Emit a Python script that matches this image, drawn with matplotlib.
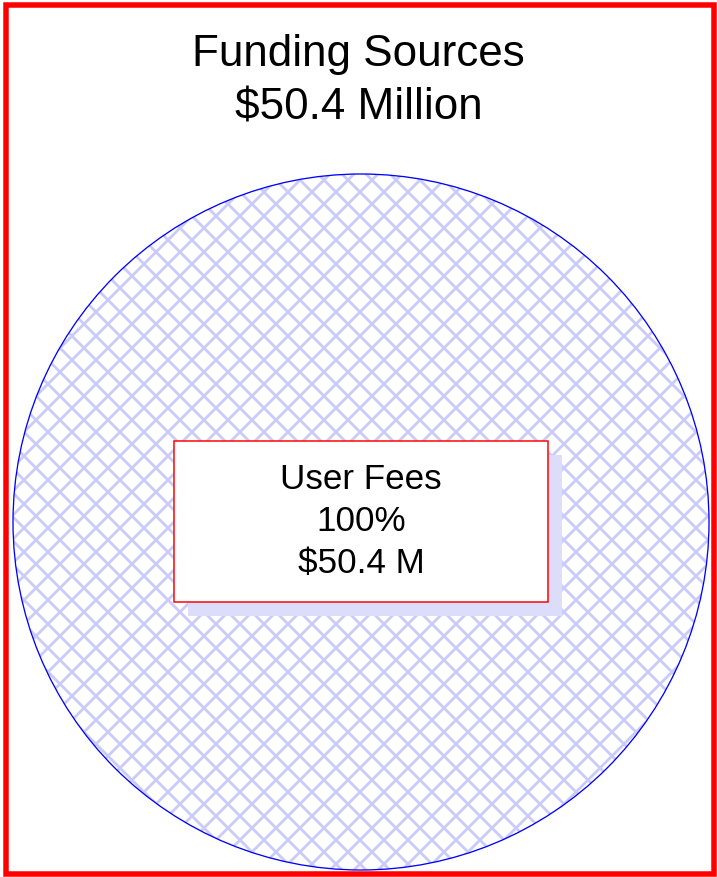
import matplotlib
matplotlib.use("Agg")
import matplotlib.pyplot as plt
from matplotlib.patches import Rectangle, Circle
from matplotlib.transforms import IdentityTransform

# Data
categories = ["User Fees"]
values = [50.4]  # $ millions
title_lines = ["Funding Sources", "$50.4 Million"]

plt.rcParams['font.family'] = ['Liberation Sans', 'DejaVu Sans']
plt.rcParams['hatch.linewidth'] = 2.8

DPI = 72
W, H = 717, 877
fig = plt.figure(figsize=(W / DPI, H / DPI), dpi=DPI)
ax = fig.add_axes([0, 0, 1, 1])

total = sum(values)
cx, cy, r = 361, 522, 348

ax.pie(values, center=(cx, cy), radius=r, startangle=90,
       colors=['white'], frame=True,
       wedgeprops=dict(hatch='x', edgecolor='#cbcbf9', linewidth=0))
ax.set_xlim(0, W)
ax.set_ylim(H, 0)
ax.set_aspect('equal')
ax.axis('off')
ax.add_patch(Circle((cx, cy), r, fill=False, edgecolor='#0000ff', linewidth=1.3, zorder=3))

# Label box with shadow
bx0, by0, bx1, by1 = 174, 441, 548, 602
off = 14
ax.add_patch(Rectangle((bx0 + off, by0 + off), bx1 - bx0, by1 - by0,
                       facecolor='#dcdcfb', edgecolor='none', zorder=4))
ax.add_patch(Rectangle((bx0, by0), bx1 - bx0, by1 - by0,
                       facecolor='white', edgecolor='#ff0000', linewidth=1.5, zorder=5))
for cat, v in zip(categories, values):
    pct = v / total * 100
    ax.text((bx0 + bx1) / 2, (by0 + by1) / 2, f"{cat}\n{pct:.0f}%\n${v:.1f} M",
            ha='center', va='center', fontsize=35, linespacing=1.36, zorder=6)

# Title
ax.text(W / 2, 81, "\n".join(title_lines), ha='center', va='center',
        fontsize=44, linespacing=1.4)

# Outer red frame (display pixel coords, origin bottom-left)
frame = Rectangle((5.5, H - 873.5), 708, 868.5, fill=False,
                  edgecolor='#ff0000', linewidth=5.5)
frame.set_transform(IdentityTransform())
fig.patches.append(frame)

fig.savefig("out.png", dpi=DPI)
